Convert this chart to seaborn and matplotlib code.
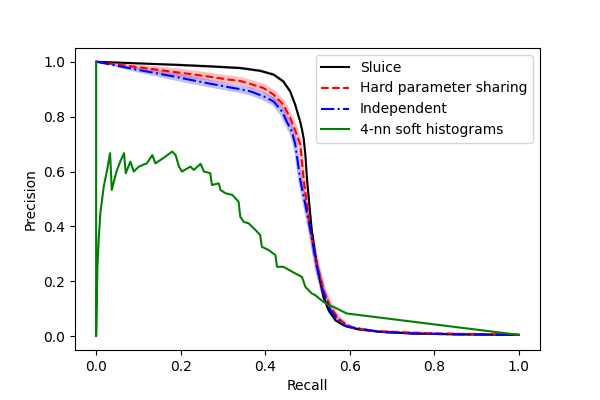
import numpy as np
import pandas as pd
import seaborn as sns
import matplotlib
matplotlib.use("Agg")
import matplotlib.pyplot as plt

# values
sluice_recall = [0, 0.1, 0.2, 0.27, 0.318, 0.341, 0.388, 0.42, 0.443, 0.459, 0.471, 0.483,
                 0.487, 0.491, 0.495, 0.499, 0.51, 0.518, 0.526, 0.538, 0.55, 0.566, 0.585,
                 0.62, 0.672, 0.75, 0.85, 1.0]
sluice_precision = [1.0, 0.994, 0.988, 0.983, 0.979, 0.977, 0.967, 0.953, 0.928, 0.892, 0.843,
                    0.78, 0.752, 0.72, 0.66, 0.569, 0.387, 0.3, 0.229, 0.143, 0.095, 0.058,
                    0.04, 0.025, 0.016, 0.01, 0.007, 0.005]

hard_recall = [0, 0.05, 0.1, 0.188, 0.223, 0.27, 0.318, 0.341, 0.365, 0.396, 0.42, 0.443,
               0.459, 0.471, 0.483, 0.491, 0.507, 0.522, 0.538, 0.554, 0.573, 0.589, 0.609,
               0.65, 0.75, 0.85, 1.0]
hard_precision = [1.0, 0.99, 0.98, 0.962, 0.955, 0.945, 0.934, 0.93, 0.919, 0.904, 0.88, 0.843,
                  0.795, 0.75, 0.697, 0.569, 0.387, 0.265, 0.168, 0.107, 0.065, 0.046, 0.03,
                  0.02, 0.013, 0.009, 0.006]

indep_recall = [0, 0.05, 0.1, 0.188, 0.223, 0.27, 0.318, 0.341, 0.365, 0.396, 0.42, 0.44,
                0.451, 0.463, 0.471, 0.483, 0.507, 0.522, 0.538, 0.554, 0.573, 0.593, 0.672,
                0.75, 0.85, 1.0]
indep_precision = [1.0, 0.985, 0.97, 0.945, 0.934, 0.92, 0.906, 0.90, 0.892, 0.874, 0.855,
                   0.818, 0.782, 0.745, 0.70, 0.569, 0.387, 0.253, 0.156, 0.095, 0.058, 0.035,
                   0.016, 0.01, 0.007, 0.005]

knn_recall = [0.0, 0.0, 0.003, 0.006, 0.01, 0.018, 0.026, 0.033, 0.037, 0.048, 0.058, 0.066,
              0.07, 0.081, 0.089, 0.101, 0.12, 0.133, 0.14, 0.16, 0.18, 0.188, 0.196, 0.203,
              0.223, 0.231, 0.247, 0.255, 0.27, 0.274, 0.29, 0.294, 0.306, 0.322, 0.337, 0.341,
              0.349, 0.361, 0.377, 0.388, 0.392, 0.408, 0.424, 0.428, 0.443, 0.471, 0.487, 0.495,
              0.51, 0.518, 0.534, 0.55, 0.562, 0.577, 0.593, 1.0]
knn_precision = [1.0, 0.0, 0.25, 0.35, 0.45, 0.545, 0.606, 0.667, 0.533, 0.6, 0.64, 0.667,
                 0.594, 0.636, 0.60, 0.618, 0.63, 0.66, 0.63, 0.65, 0.673, 0.66, 0.618, 0.60,
                 0.618, 0.606, 0.628, 0.60, 0.594, 0.551, 0.557, 0.533, 0.521, 0.515, 0.49, 0.435,
                 0.417, 0.411, 0.387, 0.369, 0.326, 0.314, 0.296, 0.253, 0.253, 0.229, 0.216, 0.18,
                 0.156, 0.15, 0.13, 0.113, 0.107, 0.095, 0.083, 0.005]

# band half widths (recall, precision) around the model curves
bands = {"Sluice": (0.0015, 0.005), "Hard parameter sharing": (0.004, 0.014),
         "Independent": (0.004, 0.013)}

fig, ax = plt.subplots(figsize=(6, 4), dpi=100)
fig.subplots_adjust(bottom=0.125)

curves = [
    ("Sluice", sluice_recall, sluice_precision, "k", "-"),
    ("Hard parameter sharing", hard_recall, hard_precision, "r", "--"),
    ("Independent", indep_recall, indep_precision, "b", "-."),
]

for name, r, p, col, ls in curves:
    r = np.array(r)
    p = np.array(p)
    dr, dp = bands[name]
    # band narrows at both ends of the curve
    taper = np.clip(r / 0.15, 0, 1) * np.clip(p / 0.1, 0.3, 1)
    # shift up-right and down-left so the band shows on flat and steep parts
    xs = np.concatenate([r + dr * taper, (r - dr * taper)[::-1]])
    ys = np.concatenate([p + dp * taper, (p - dp * taper)[::-1]])
    ax.fill(xs, ys, color=col, alpha=0.25, lw=0)
    df = pd.DataFrame({"Recall": r, "Precision": p})
    sns.lineplot(data=df, x="Recall", y="Precision", sort=False, estimator=None,
                 color=col, linestyle=ls, lw=1.5, label=name, ax=ax)

df_knn = pd.DataFrame({"Recall": knn_recall, "Precision": knn_precision})
sns.lineplot(data=df_knn, x="Recall", y="Precision", sort=False, estimator=None,
             color="g", lw=1.5, label="4-nn soft histograms", ax=ax)

ax.set_xlim(-0.05, 1.05)
ax.set_ylim(-0.05, 1.05)
ax.set_xticks([0, 0.2, 0.4, 0.6, 0.8, 1.0])
ax.set_yticks([0, 0.2, 0.4, 0.6, 0.8, 1.0])
ax.set_xlabel("Recall")
ax.set_ylabel("Precision")
ax.legend(loc="upper right")

fig.savefig("out.png", dpi=100)
